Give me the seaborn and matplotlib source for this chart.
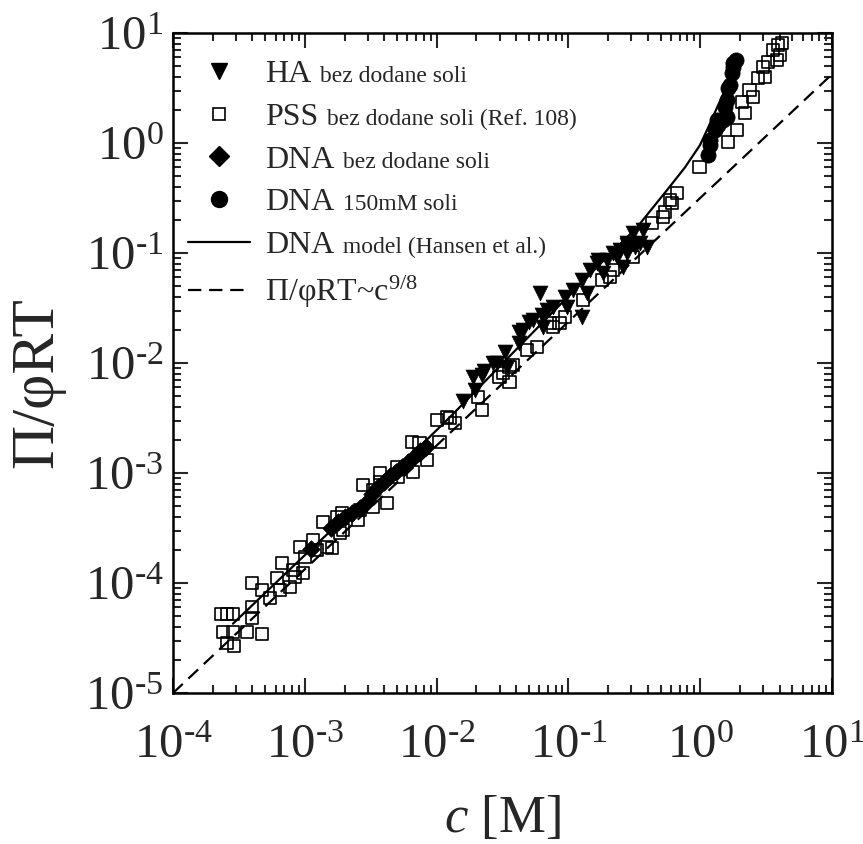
import numpy as np
import pandas as pd
import matplotlib
matplotlib.use('Agg')
import matplotlib.pyplot as plt
import seaborn as sns
from matplotlib.lines import Line2D
from matplotlib.ticker import LogLocator, NullFormatter, FuncFormatter

# PSS bez dodane soli (Ref. 108) - open squares
pss_c = [2.31e-4, 2.57e-4, 2.85e-4, 2.40e-4, 2.85e-4, 3.64e-4, 4.74e-4, 2.57e-4, 2.90e-4, 3.98e-4,
         3.98e-4, 3.98e-4, 4.74e-4, 5.45e-4, 6.16e-4, 6.48e-4, 7.72e-4, 8.43e-4, 9.69e-4, 6.71e-4,
         9.19e-4, 1.154e-3, 1.237e-3, 1.473e-3, 1.85e-3, 8.14e-4, 1.0e-3, 1.374e-3, 1.61e-3, 1.755e-3,
         1.949e-3, 1.915e-3, 2.53e-3, 2.62e-3, 2.76e-3, 3.29e-3, 3.72e-3, 3.29e-3, 3.72e-3, 4.2e-3,
         5.01e-3, 5.1e-3, 6.62e-3, 6.5e-3, 7.42e-3, 8.46e-3, 1.05e-2, 1.007e-2, 1.2e-2, 1.38e-2,
         1.26e-2, 2.21e-2, 2.06e-2, 3.0e-2, 3.58e-2, 3.80e-2, 4.85e-2, 5.78e-2, 3.58e-2, 3.19e-2,
         7.64e-2, 8.58e-2, 9.42e-2, 0.129, 0.18, 0.206, 0.309, 0.431, 0.522, 0.59,
         0.667, 7.2e-2, 0.218, 0.99, 0.54, 0.611, 1.63, 1.90, 2.07, 2.19,
         2.52, 2.37, 2.75, 3.0, 3.11, 3.28, 3.57, 3.90, 4.18, 4.03,
         3.83]
pss_p = [5.2e-5, 5.2e-5, 5.2e-5, 3.58e-5, 3.6e-5, 3.6e-5, 3.44e-5, 2.85e-5, 2.68e-5, 6.05e-5,
         4.81e-5, 1.0e-4, 8.64e-5, 7.31e-5, 1.11e-4, 8.64e-5, 9.2e-5, 1.135e-4, 1.233e-4, 1.52e-4,
         2.13e-4, 2.46e-4, 2.0e-4, 2.13e-4, 2.85e-4, 1.31e-4, 1.72e-4, 3.58e-4, 2.08e-4, 3.98e-4,
         3.04e-4, 4.33e-4, 3.74e-4, 4.61e-4, 7.78e-4, 4.91e-4, 8.28e-4, 7.01e-4, 1.0e-3, 5.34e-4,
         1.135e-3, 9.2e-4, 1.021e-3, 1.91e-3, 1.874e-3, 1.31e-3, 1.91e-3, 3.04e-3, 3.23e-3, 2.85e-3,
         3.16e-3, 3.74e-3, 4.91e-3, 7.46e-3, 6.72e-3, 9.59e-3, 1.31e-2, 1.40e-2, 9.2e-3, 8.11e-3,
         2.13e-2, 2.31e-2, 2.62e-2, 3.74e-2, 5.69e-2, 6.05e-2, 0.092, 0.1874, 0.2125, 0.304,
         0.351, 2.31e-2, 7.01e-2, 0.605, 0.236, 0.285, 1.02, 1.31, 2.36, 1.874,
         2.62, 3.04, 3.90, 4.91, 3.98, 5.45, 7.01, 7.78, 8.11, 6.31,
         5.69]

# HA bez dodane soli - filled down triangles
ha_c = [1.586e-2, 1.889e-2, 2.21e-2, 1.96e-2, 2.68e-2, 2.87e-2, 3.3e-2, 3.43e-2, 4.24e-2, 4.24e-2,
        5.06e-2, 6.31e-2, 6.42e-2, 6.88e-2, 6.07e-2, 7.64e-2, 9.42e-2, 0.127, 0.1084, 0.127,
        0.146, 0.168, 0.196, 0.234, 0.279, 0.32, 0.368, 0.395, 0.26, 0.183,
        0.309, 0.279, 0.349, 4.52e-2, 5.39e-2, 9.8e-2, 0.138, 0.165, 0.218, 0.247,
        0.279, 2.3e-2]
ha_p = [4.52e-3, 7.46e-3, 7.78e-3, 5.69e-3, 1e-2, 1e-2, 1.26e-2, 9.2e-3, 1.52e-2, 1.91e-2,
        2.36e-2, 2.73e-2, 2.13e-2, 3.04e-2, 4.33e-2, 3.23e-2, 3.98e-2, 2.62e-2, 4.61e-2, 5.69e-2,
        7.01e-2, 8.64e-2, 8.64e-2, 9.2e-2, 0.1, 0.1135, 0.162, 0.1135, 7.46e-2, 6.58e-2,
        0.152, 0.1233, 0.1233, 2.0e-2, 2.46e-2, 3.23e-2, 4.33e-2, 8.11e-2, 0.1, 0.1065,
        0.118, 8.4e-3]

# DNA bez dodane soli - filled diamonds
dna_c = [1.114e-3, 1.58e-3, 1.79e-3, 2.02e-3, 2.28e-3, 2.62e-3, 2.91e-3, 3.23e-3, 3.59e-3,
         3.99e-3, 4.43e-3, 4.92e-3, 5.46e-3, 6.07e-3, 6.74e-3, 7.46e-3, 8.3e-3]
dna_p = [2.04e-4, 3.16e-4, 3.58e-4, 3.98e-4, 4.33e-4, 4.81e-4, 5.34e-4, 6.44e-4, 7.46e-4,
         8.28e-4, 9.39e-4, 1.021e-3, 1.135e-3, 1.26e-3, 1.40e-3, 1.585e-3, 1.72e-3]

# DNA 150mM soli - filled circles
salt_c = [1.147, 1.19, 1.19, 1.295, 1.366, 1.342, 1.489, 1.597, 1.542, 1.597,
          1.625, 1.68, 1.743, 1.774, 1.774, 1.87]
salt_p = [0.778, 0.959, 1.065, 1.31, 1.458, 1.62, 1.62, 1.724, 2.125, 2.46,
          3.16, 3.37, 4.33, 4.91, 5.34, 5.69]

# DNA model (Hansen et al.) - solid line
model_c = [2.85e-4, 9.2e-4, 5.27e-3, 1.265e-2, 3.03e-2, 7.24e-2, 0.174, 0.331, 0.560,
           0.767, 0.995, 1.186, 1.365, 1.626, 1.90]
model_p = [4.27e-5, 1.63e-4, 1.16e-3, 3.23e-3, 9.4e-3, 2.73e-2, 7.94e-2, 0.171, 0.373,
           0.601, 0.955, 1.50, 2.20, 3.44, 5.40]

# Pi/phiRT ~ c^(9/8) - dashed line (end points)
scaling_c = [1e-4, 10.0]
scaling_p = [1e-5, 4.22]

legend_main = ['HA', 'PSS', 'DNA', 'DNA', 'DNA', 'Π/φRT~c$^{9/8}$']
legend_small = [' bez dodane soli', ' bez dodane soli (Ref. 108)', ' bez dodane soli',
                ' 150mM soli', ' model (Hansen et al.)', '']

sns.set_style('ticks')
plt.rcParams['font.family'] = ['Liberation Serif', 'DejaVu Serif']
plt.rcParams['mathtext.fontset'] = 'custom'
plt.rcParams['mathtext.rm'] = 'Liberation Serif'
plt.rcParams['mathtext.it'] = 'Liberation Serif:italic'
plt.rcParams['mathtext.bf'] = 'Liberation Serif:bold'

df_pss = pd.DataFrame({'c': pss_c, 'p': pss_p})
df_ha = pd.DataFrame({'c': ha_c, 'p': ha_p})
df_dna = pd.DataFrame({'c': dna_c, 'p': dna_p})
df_salt = pd.DataFrame({'c': salt_c, 'p': salt_p})
df_model = pd.DataFrame({'c': model_c, 'p': model_p})
df_scaling = pd.DataFrame({'c': scaling_c, 'p': scaling_p})

fig = plt.figure(figsize=(8.63, 8.44), dpi=100)
ax = fig.add_axes([0.2005, 0.1789, 0.7636, 0.7820])
ax.set_xscale('log')
ax.set_yscale('log')

sns.scatterplot(data=df_pss, x='c', y='p', ax=ax, marker='s', s=80, facecolors='none',
                edgecolor='black', linewidth=1.2, zorder=2, legend=False)
sns.lineplot(data=df_model, x='c', y='p', ax=ax, color='black', lw=1.6, estimator=None,
             sort=False, zorder=3, legend=False)
sns.lineplot(data=df_scaling, x='c', y='p', ax=ax, color='black', lw=1.6, estimator=None,
             linestyle=(0, (6, 3.5)), zorder=3, legend=False)
sns.scatterplot(data=df_ha, x='c', y='p', ax=ax, marker='v', s=115, color='black',
                edgecolor='black', linewidth=0.5, zorder=4, legend=False)
sns.scatterplot(data=df_dna, x='c', y='p', ax=ax, marker='D', s=80, color='black',
                edgecolor='black', linewidth=0.5, zorder=4, legend=False)
sns.scatterplot(data=df_salt, x='c', y='p', ax=ax, marker='o', s=120, color='black',
                edgecolor='black', linewidth=0.5, zorder=5, legend=False)

ax.set_xlim(1e-4, 10)
ax.set_ylim(1e-5, 10)


def decade_label(v, pos):
    n = int(round(np.log10(v)))
    exp = str(n) if n >= 0 else '\u2010' + str(-n)
    return '$\\mathdefault{10^{' + exp + '}}$'


for axis in (ax.xaxis, ax.yaxis):
    axis.set_major_locator(LogLocator(base=10, numticks=20))
    axis.set_minor_locator(LogLocator(base=10, subs=np.arange(2, 10), numticks=100))
    axis.set_major_formatter(FuncFormatter(decade_label))
    axis.set_minor_formatter(NullFormatter())

ax.tick_params(which='both', direction='in', top=True, right=True, width=1.5, labelsize=35)
ax.tick_params(axis='y', which='major', pad=7)
ax.tick_params(axis='x', which='major', pad=22)
ax.tick_params(which='major', length=11)
ax.tick_params(which='minor', length=6)
for sp in ax.spines.values():
    sp.set_linewidth(1.8)
    sp.set_color('black')

ax.set_xlabel('$c$ [M]', fontsize=38, labelpad=20)
ax.set_ylabel('Π/φRT', fontsize=44)
ax.yaxis.set_label_coords(-0.164, 0.47)

handles = [
    Line2D([], [], ls='none', marker='v', ms=11.5, color='black'),
    Line2D([], [], ls='none', marker='s', ms=9, mfc='none', mec='black', mew=1.2),
    Line2D([], [], ls='none', marker='D', ms=10, color='black'),
    Line2D([], [], ls='none', marker='o', ms=11.5, color='black'),
    Line2D([], [], color='black', lw=1.6),
    Line2D([], [], color='black', lw=1.6, ls=(0, (6, 3.5))),
]
leg = ax.legend(handles, legend_main, loc='upper left', bbox_to_anchor=(0.0228, 0.9595),
                borderaxespad=0, borderpad=0, frameon=False, fontsize=23,
                handlelength=1.95, handletextpad=0.45, labelspacing=0.42, numpoints=1)

fig.canvas.draw()
for txt, small in zip(leg.get_texts(), legend_small):
    if small:
        ax.annotate(small, xy=(1, 0), xycoords=txt, xytext=(2, 1.5), textcoords='offset points',
                    fontsize=17, ha='left', va='bottom', zorder=10, annotation_clip=False)

fig.savefig('out.png', dpi=100)
